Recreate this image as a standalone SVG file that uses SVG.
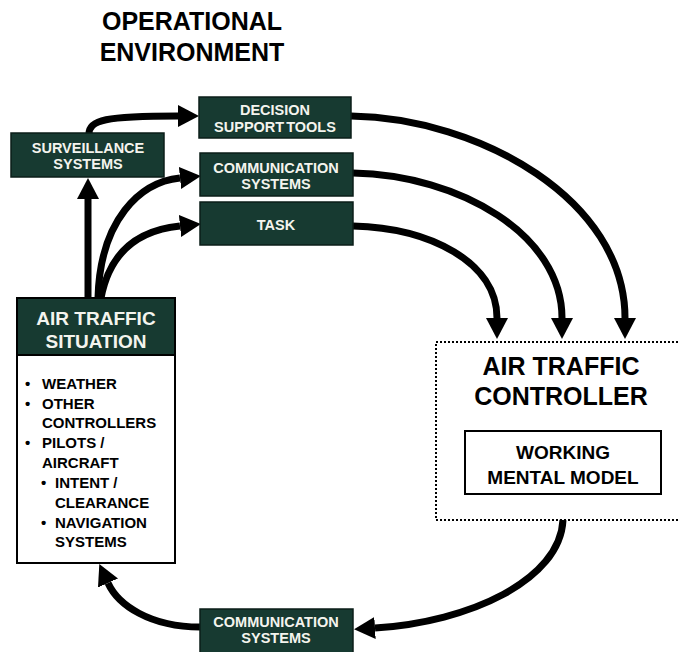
<svg xmlns="http://www.w3.org/2000/svg" width="680" height="652" viewBox="0 0 680 652">
<style>
text{font-family:"Liberation Sans",Arial,sans-serif;font-weight:bold}
.dk{fill:#173a31;stroke:#0b1e19;stroke-width:1.5}
.wt{fill:#f4f4ee;font-size:14.5px;text-anchor:middle}
.hd{fill:#f4f4ee;font-size:19px;text-anchor:middle}
.li{fill:#000;font-size:15px}
.big{fill:#000;font-size:25px;text-anchor:middle}
.mm{fill:#000;font-size:19px;text-anchor:middle}
.ar{fill:none;stroke:#000;stroke-width:7}
</style>
<defs>
<marker id="ah" markerUnits="userSpaceOnUse" markerWidth="22" markerHeight="22" refX="0" refY="11" orient="auto" viewBox="0 0 22 22">
<path d="M0,0 L21,11 L0,22 Z" fill="#000"/>
</marker>
</defs>
<rect width="680" height="652" fill="#fff"/>
<g id="title">
<text class="big" x="192" y="30">OPERATIONAL</text>
<text class="big" x="192" y="61">ENVIRONMENT</text>
</g>
<g id="connectors">
<path class="ar" d="M88,298 L88,199" marker-end="url(#ah)"/>
<path class="ar" d="M89,134 C89,120 105,116 178,116" marker-end="url(#ah)"/>
<path class="ar" d="M98,298 C100,220 140,182 180,178" marker-end="url(#ah)"/>
<path class="ar" d="M101,298 C110,250 140,230 180,226" marker-end="url(#ah)"/>
<path class="ar" d="M351,116 C480,118 625,200 625,318" marker-end="url(#ah)"/>
<path class="ar" d="M353,173 C460,175 562,235 562,318" marker-end="url(#ah)"/>
<path class="ar" d="M353,226 C430,228 497,262 497,318" marker-end="url(#ah)"/>
<path class="ar" d="M563,520 C560,580 470,622 375,628" marker-end="url(#ah)"/>
<path class="ar" d="M200,627 C150,627 118,605 108,583" marker-end="url(#ah)"/>
</g>
<g id="surveillance">
<rect class="dk" x="11" y="133" width="153" height="44"/>
<text class="wt" x="88" y="153">SURVEILLANCE</text>
<text class="wt" x="88" y="169">SYSTEMS</text>
</g>
<g id="decision-support">
<rect class="dk" x="199" y="97" width="152" height="41"/>
<text class="wt" x="275" y="115">DECISION</text>
<text class="wt" x="275" y="132" word-spacing="-2">SUPPORT TOOLS</text>
</g>
<g id="communication-top">
<rect class="dk" x="200" y="153" width="153" height="43"/>
<text class="wt" x="276" y="173">COMMUNICATION</text>
<text class="wt" x="276" y="189">SYSTEMS</text>
</g>
<g id="task">
<rect class="dk" x="200" y="202" width="153" height="43"/>
<text class="wt" x="276" y="230">TASK</text>
</g>
<g id="air-traffic-situation">
<rect x="17" y="298" width="158" height="265" fill="#fff" stroke="#000" stroke-width="2"/>
<rect x="17" y="298" width="158" height="57" fill="#173a31" stroke="#000" stroke-width="2"/>
<text class="hd" x="96" y="325">AIR TRAFFIC</text>
<text class="hd" x="96" y="348">SITUATION</text>
<text class="li" x="25" y="389">•</text><text class="li" x="42" y="389">WEATHER</text>
<text class="li" x="25" y="409">•</text><text class="li" x="42" y="409">OTHER</text>
<text class="li" x="42" y="428">CONTROLLERS</text>
<text class="li" x="25" y="448">•</text><text class="li" x="42" y="448">PILOTS /</text>
<text class="li" x="42" y="468">AIRCRAFT</text>
<text class="li" x="41" y="488">•</text><text class="li" x="55" y="488">INTENT /</text>
<text class="li" x="55" y="508">CLEARANCE</text>
<text class="li" x="41" y="528">•</text><text class="li" x="55" y="528">NAVIGATION</text>
<text class="li" x="55" y="547">SYSTEMS</text>
</g>
<g id="air-traffic-controller">
<rect x="436" y="342" width="260" height="178" fill="none" stroke="#000" stroke-width="2" stroke-dasharray="2 2"/>
<text class="big" x="561" y="375">AIR TRAFFIC</text>
<text class="big" x="561" y="405">CONTROLLER</text>
</g>
<g id="working-mental-model">
<rect x="465" y="431" width="196" height="63" fill="#fff" stroke="#000" stroke-width="2"/>
<text class="mm" x="563" y="459">WORKING</text>
<text class="mm" x="563" y="484">MENTAL MODEL</text>
</g>
<g id="communication-bottom">
<rect class="dk" x="200" y="609" width="153" height="46"/>
<text class="wt" x="276" y="627">COMMUNICATION</text>
<text class="wt" x="276" y="643">SYSTEMS</text>
</g>
</svg>
